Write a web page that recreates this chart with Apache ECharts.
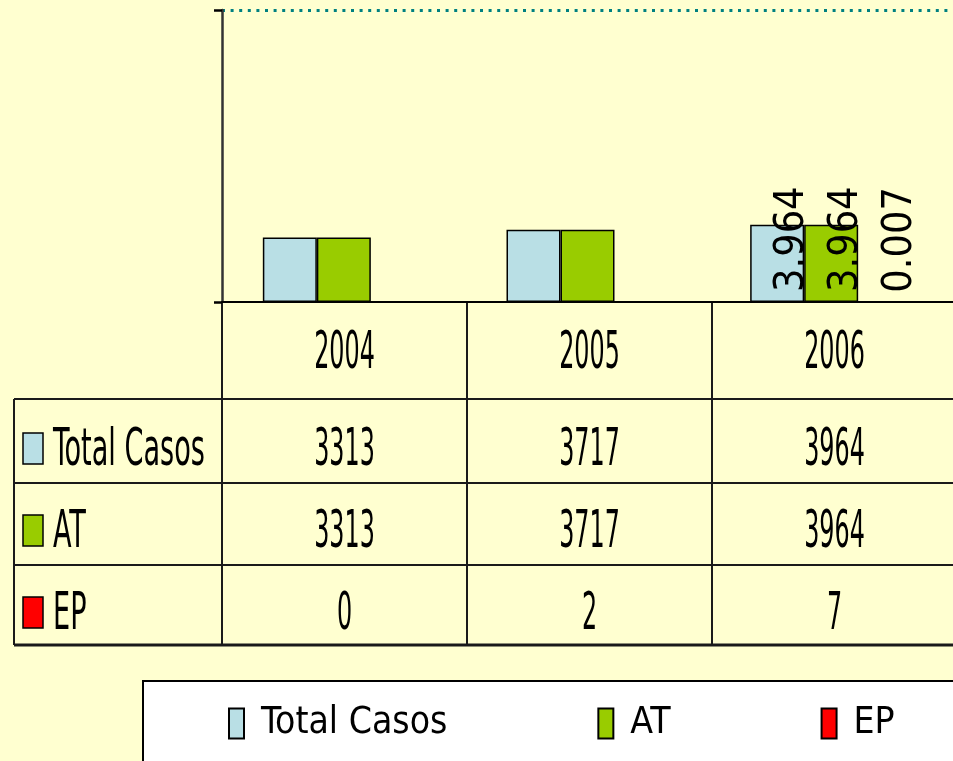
<!DOCTYPE html>
<html>
<head>
<meta charset="utf-8">
<script src="https://cdn.jsdelivr.net/npm/echarts@6/dist/echarts.min.js"></script>
<style>
  html, body { margin: 0; padding: 0; background: #FFFFD0; }
  #chart { width: 953px; height: 761px; }
</style>
</head>
<body>
<div id="chart"></div>
<script>
// datos del grafico
var years = ['2004', '2005', '2006']
var seriesNames = ['Total Casos', 'AT', 'EP']
var totalCasos = [3313, 3717, 3964]
var at = [3313, 3717, 3964]
var ep = [0, 2, 7]
var colors = ['#B9DFE5', '#99CC00', '#FF0000']

// layout
var font = "'DejaVu Sans Condensed', 'Liberation Sans Narrow', sans-serif"
var gridLeft = 222
var gridTop = 10
var gridH = 292
var catW = 245
var axisY = gridTop + gridH
var tableLeft = 14
var rowLines = [399, 483, 565, 645]
var rowTextY = [451, 533, 615]
var yearTextY = 354
var numScale = 0.51
var nameScale = 0.58

var chart = echarts.init(document.getElementById('chart'))

function barData (arr) {
  // solo 2006 lleva etiqueta
  return arr.map(function (v, i) {
    return { value: v, label: { show: i === arr.length - 1 } }
  })
}

function makeSeries (name, arr, color) {
  return {
    name: name,
    type: 'bar',
    data: barData(arr),
    barWidth: 54,
    barGap: '0%',
    itemStyle: { color: color, borderColor: '#000', borderWidth: 1.5 },
    label: {
      show: false,
      position: 'insideBottom',
      distance: 10,
      rotate: 90,
      align: 'left',
      verticalAlign: 'middle',
      offset: [0, 15],
      fontFamily: font,
      fontSize: 41,
      color: '#000',
      formatter: function (p) { return (p.value / 1000).toFixed(3) }
    }
  }
}

// tabla de datos (como en Excel)
function buildTable () {
  var els = []
  var right = gridLeft + catW * years.length
  var lineStyle = { stroke: '#1a1a1a', lineWidth: 2 }
  // verticales
  for (var i = 0; i <= years.length; i++) {
    var x = gridLeft + catW * i
    els.push({ type: 'line', shape: { x1: x, y1: axisY, x2: x, y2: rowLines[3] }, style: lineStyle })
  }
  els.push({ type: 'line', shape: { x1: tableLeft, y1: rowLines[0], x2: tableLeft, y2: rowLines[3] }, style: lineStyle })
  // horizontales
  rowLines.forEach(function (y, k) {
    els.push({
      type: 'line',
      shape: { x1: tableLeft, y1: y, x2: right, y2: y },
      style: { stroke: '#1a1a1a', lineWidth: k === rowLines.length - 1 ? 3 : 2 }
    })
  })
  function txt (s, x, y, align, sc) {
    return {
      type: 'text',
      x: x,
      y: y,
      scaleX: sc,
      style: {
        text: s, x: 0, y: 0,
        align: align, textAlign: align,
        verticalAlign: 'middle', textVerticalAlign: 'middle',
        font: '52px ' + font,
        fill: '#000'
      }
    }
  }
  years.forEach(function (yr, i) {
    els.push(txt(yr, gridLeft + catW * (i + 0.5), yearTextY, 'center', numScale))
  })
  var rows = [totalCasos, at, ep]
  rows.forEach(function (arr, r) {
    els.push({
      type: 'rect',
      shape: { x: 23, y: rowTextY[r] - 18, width: 20, height: 31 },
      style: { fill: colors[r], stroke: '#000', lineWidth: 1.5 }
    })
    els.push(txt(seriesNames[r], 53, rowTextY[r], 'left', nameScale))
    arr.forEach(function (v, i) {
      els.push(txt(String(v), gridLeft + catW * (i + 0.5), rowTextY[r], 'center', numScale))
    })
  })
  return els
}

chart.setOption({
  backgroundColor: '#FFFFD0',
  animation: false,
  color: colors,
  grid: { left: gridLeft, top: gridTop, width: catW * years.length, height: gridH, containLabel: false },
  legend: {
    data: seriesNames,
    left: 143,
    top: 681,
    width: 720,
    itemWidth: 15,
    itemHeight: 30,
    itemGap: 150,
    icon: 'rect',
    padding: [24, 90, 60, 85],
    backgroundColor: '#fff',
    borderColor: '#000',
    borderWidth: 2,
    textStyle: { fontFamily: font, fontSize: 37, color: '#000', padding: [0, 0, 0, 12] }
  },
  xAxis: {
    type: 'category',
    data: years,
    z: 5,
    axisLine: { lineStyle: { color: '#000', width: 2 } },
    axisTick: { show: false },
    axisLabel: { show: false },
    splitLine: { show: false }
  },
  yAxis: {
    type: 'value',
    min: 0,
    max: 15000,
    interval: 15000,
    axisLine: { show: true, lineStyle: { color: '#333', width: 2.5 } },
    axisTick: { show: true, length: 8, lineStyle: { color: '#000', width: 2.5 } },
    axisLabel: { show: false },
    splitLine: {
      show: true,
      showMinLine: false,
      lineStyle: { color: '#008080', width: 3, type: [3, 5.6] }
    }
  },
  graphic: buildTable(),
  series: [
    makeSeries(seriesNames[0], totalCasos, colors[0]),
    makeSeries(seriesNames[1], at, colors[1]),
    makeSeries(seriesNames[2], ep, colors[2])
  ]
})
</script>
</body>
</html>
